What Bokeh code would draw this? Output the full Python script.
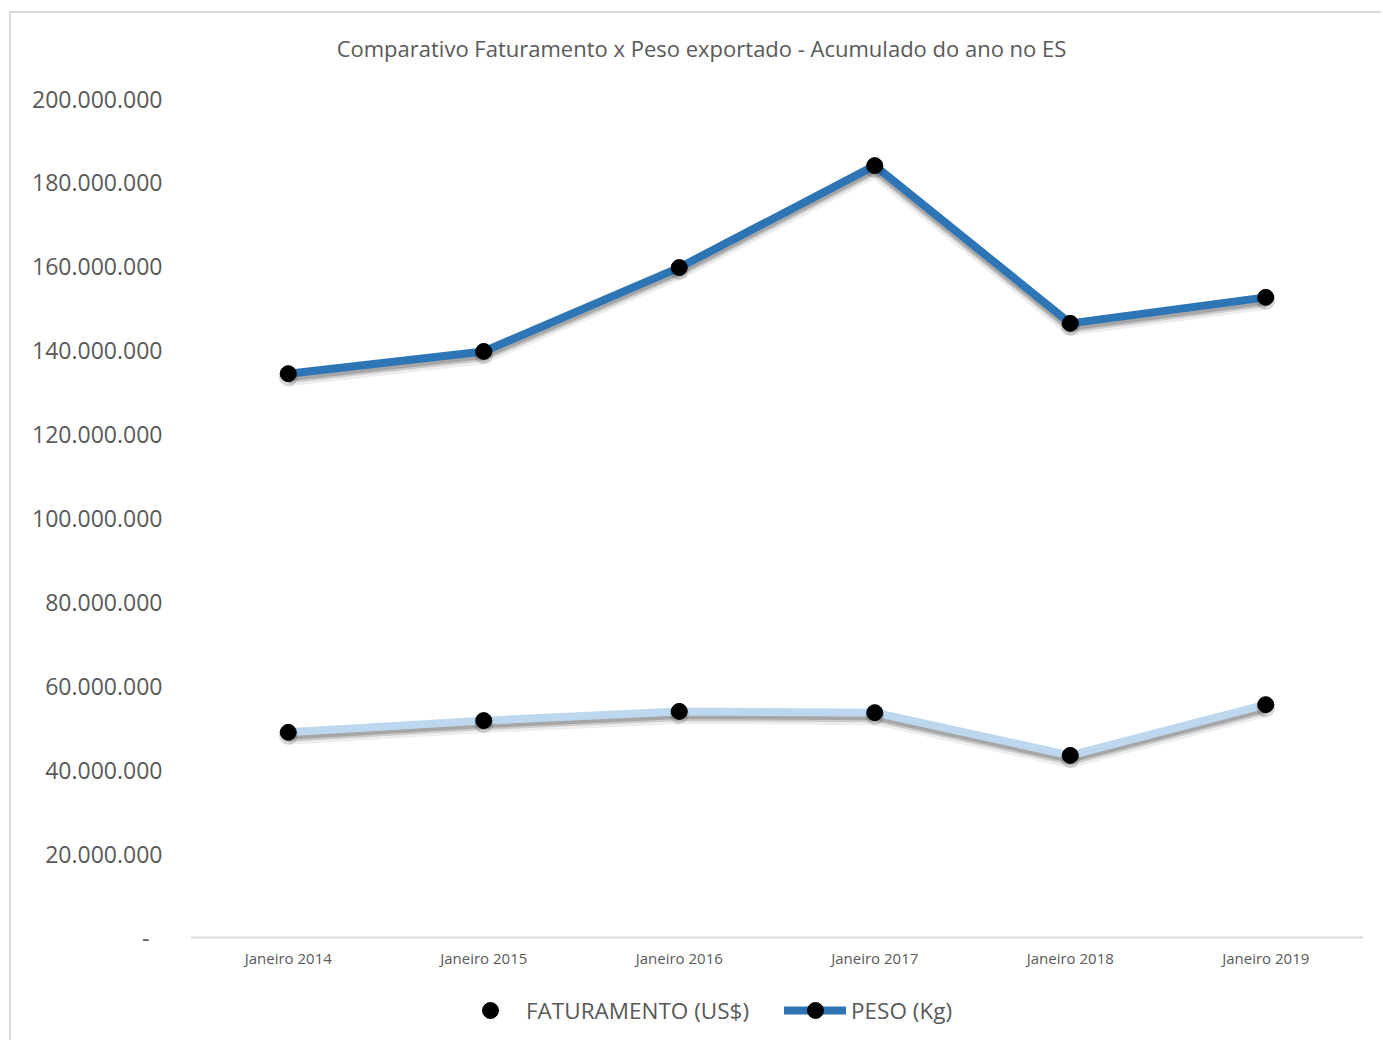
from bokeh.plotting import figure
from bokeh.models import FactorRange, Range1d, FixedTicker, CustomJSTickFormatter, Legend, LegendItem, Label
from bokeh.embed import file_html
from bokeh.resources import INLINE

categories = ["Janeiro 2014", "Janeiro 2015", "Janeiro 2016", "Janeiro 2017", "Janeiro 2018", "Janeiro 2019"]
faturamento = [48.9e6, 51.7e6, 53.9e6, 53.6e6, 43.4e6, 55.5e6]
peso = [134.4e6, 139.7e6, 159.7e6, 184.0e6, 146.4e6, 152.6e6]
y_ticks = [0, 20e6, 40e6, 60e6, 80e6, 100e6, 120e6, 140e6, 160e6, 180e6, 200e6]
title_text = "Comparativo Faturamento x Peso exportado - Acumulado do ano no ES"

TEXT = "#595959"
FONT = "Open Sans"
W, H = 1372, 1029
MB_L, MB_R = 179, 20
TOP_PX = 85            # room above the 200.000.000 level (title)
AXIS_PX = 839          # pixels from value 0 to Y_MAX
Y_MAX = 200e6
units_per_px = Y_MAX / AXIS_PX
BOTTOM_PX = H - TOP_PX - AXIS_PX   # room under the axis (labels and legend)

p = figure(width=W, height=H, x_range=FactorRange(*categories),
           y_range=Range1d(-BOTTOM_PX * units_per_px, Y_MAX + TOP_PX * units_per_px),
           output_backend="svg", toolbar_location=None,
           min_border_left=MB_L, min_border_right=MB_R, min_border_top=0, min_border_bottom=0)
p.outline_line_color = None
p.xgrid.visible = False
p.ygrid.visible = False
p.background_fill_color = "white"
p.border_fill_color = "white"
p.styles = {"margin-left": "9px", "margin-top": "11px",
            "border-left": "2px solid #d9d9d9", "border-top": "2px solid #d9d9d9"}

p.add_layout(Label(text=title_text, x=511, y=H - 34, x_units="screen", y_units="screen",
                   text_align="center", text_baseline="middle", text_font=FONT,
                   text_font_size="22px", text_color=TEXT))

def shifted(vals, px):
    return [v - px * units_per_px for v in vals]

for series in (faturamento, peso):
    p.line(categories, shifted(series, 6), line_width=13, line_color="black", line_alpha=0.07, line_join="round")
    p.line(categories, shifted(series, 5), line_width=9, line_color="black", line_alpha=0.14, line_join="round")
    p.line(categories, shifted(series, 4), line_width=7, line_color="black", line_alpha=0.18, line_join="round")

fat_line = p.line(categories, faturamento, line_width=8, line_color="#BDD7EE", line_join="round", line_cap="round")
peso_line = p.line(categories, peso, line_width=8, line_color="#2E75B6", line_join="round", line_cap="round")

for series in (faturamento, peso):
    p.scatter(categories, shifted(series, 3), size=19, fill_color="black", fill_alpha=0.15, line_color=None)

fat_pts = p.scatter(categories, faturamento, size=16, fill_color="black", line_color="black")
peso_pts = p.scatter(categories, peso, size=16, fill_color="black", line_color="black")

# y axis
p.yaxis.ticker = FixedTicker(ticks=y_ticks)
p.yaxis.formatter = CustomJSTickFormatter(code="""
if (tick == 0) { return "-\u2007"; }
return Math.round(tick).toString().replace(/\\B(?=(\\d{3})+(?!\\d))/g, ".");
""")
p.yaxis.axis_line_color = None
p.yaxis.major_tick_line_color = None
p.yaxis.minor_tick_line_color = None
p.yaxis.major_label_text_font = FONT
p.yaxis.major_label_text_font_size = "23px"
p.yaxis.major_label_text_color = TEXT
p.yaxis.major_label_standoff = 22

# x axis, drawn at value 0 inside the frame
p.xaxis.fixed_location = 0
p.xaxis.axis_line_color = "#d9d9d9"
p.xaxis.axis_line_width = 2
p.xaxis.major_tick_line_color = None
p.xaxis.minor_tick_line_color = None
p.xaxis.major_label_text_font = FONT
p.xaxis.major_label_text_font_size = "15px"
p.xaxis.major_label_text_color = TEXT
p.xaxis.major_label_standoff = 4

legend = Legend(items=[
    LegendItem(label="FATURAMENTO (US$)", renderers=[fat_pts]),
    LegendItem(label="PESO (Kg)", renderers=[peso_line, peso_pts]),
], orientation="horizontal", location=(269, 12))
legend.label_text_font = FONT
legend.label_text_font_size = "22.5px"
legend.label_text_color = TEXT
legend.glyph_width = 62
legend.glyph_height = 40
legend.label_standoff = 5
legend.spacing = 35
legend.border_line_color = None
legend.background_fill_alpha = 0
legend.padding = 4
legend.margin = 0
p.add_layout(legend, "center")

open("out.html", "w").write(file_html(p, INLINE))
